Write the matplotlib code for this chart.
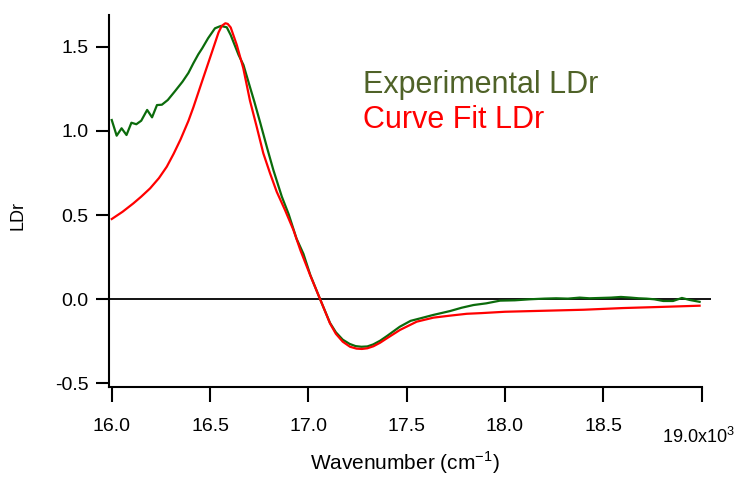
import matplotlib
matplotlib.use("Agg")
from matplotlib import pyplot as plt
import numpy as np

# experimental linear dichroism ratio (wavenumber in cm^-1)
exp_wn = [16000, 16025, 16050, 16075, 16100, 16125, 16150, 16180, 16205, 16230,
          16255, 16285, 16320, 16360, 16390, 16415, 16440, 16460, 16490, 16525,
          16555, 16585, 16605, 16625, 16645, 16670, 16700, 16725, 16755, 16790,
          16822, 16865, 16900, 16940, 16975, 17010, 17060, 17110, 17140, 17175,
          17210, 17240, 17270, 17300, 17330, 17365, 17400, 17465, 17520, 17570,
          17635, 17720, 17780, 17840, 17905, 17975, 18050, 18125, 18200, 18260,
          18320, 18380, 18430, 18485, 18540, 18590, 18640, 18680, 18720, 18760,
          18805, 18855, 18900, 18940, 18990]
exp_ldr = [1.065, 0.972, 1.016, 0.976, 1.049, 1.040, 1.061, 1.125, 1.081, 1.154,
           1.156, 1.184, 1.234, 1.293, 1.345, 1.402, 1.455, 1.491, 1.551, 1.610,
           1.624, 1.616, 1.570, 1.511, 1.452, 1.392, 1.273, 1.175, 1.050, 0.900,
           0.768, 0.610, 0.505, 0.360, 0.270, 0.144, 0.000, -0.140, -0.196, -0.240,
           -0.265, -0.278, -0.282, -0.280, -0.268, -0.246, -0.218, -0.163, -0.128, -0.113,
           -0.093, -0.070, -0.050, -0.034, -0.024, -0.008, -0.006, 0.000, 0.004, 0.006,
           0.004, 0.010, 0.006, 0.008, 0.010, 0.014, 0.010, 0.006, 0.004, 0.000,
           -0.010, -0.010, 0.008, -0.004, -0.015]

# fitted curve
fit_wn = [16000, 16055, 16110, 16150, 16195, 16240, 16280, 16315, 16350, 16390,
          16415, 16458, 16510, 16543, 16560, 16578, 16590, 16605, 16636, 16669,
          16703, 16737, 16771, 16805, 16839, 16881, 16924, 16960, 17009, 17060,
          17110, 17140, 17175, 17212, 17245, 17272, 17300, 17331, 17365, 17399,
          17466, 17551, 17636, 17721, 17806, 17880, 18000, 18200, 18400, 18600,
          18800, 18990]
fit_ldr = [0.477, 0.520, 0.570, 0.610, 0.659, 0.720, 0.788, 0.865, 0.950, 1.060,
           1.140, 1.290, 1.470, 1.585, 1.625, 1.640, 1.636, 1.615, 1.511, 1.373,
           1.180, 1.026, 0.867, 0.749, 0.639, 0.531, 0.412, 0.290, 0.144, 0.000,
           -0.143, -0.205, -0.252, -0.282, -0.293, -0.295, -0.291, -0.279, -0.258, -0.232,
           -0.182, -0.133, -0.109, -0.097, -0.086, -0.082, -0.074, -0.068, -0.062, -0.052,
           -0.045, -0.038]

xticks = [16000, 16500, 17000, 17500, 18000, 18500, 19000]
xticklabels = ["16.0", "16.5", "17.0", "17.5", "18.0", "18.5", ""]
yticks = [-0.5, 0.0, 0.5, 1.0, 1.5]
yticklabels = ["-0.5", "0.0", "0.5", "1.0", "1.5"]

plt.rcParams["font.family"] = ["Liberation Sans", "DejaVu Sans"]
plt.rcParams["mathtext.fontset"] = "custom"
plt.rcParams["mathtext.rm"] = "Liberation Sans"

W, H = 740, 478
fig = plt.figure(figsize=(W / 100, H / 100), dpi=100)
ax = fig.add_axes([109 / W, (H - 387) / H, 602 / W, 372 / H])

ax.axhline(0, color="black", lw=1.3, zorder=1)
ax.plot(exp_wn, exp_ldr, color="#0b6b0b", lw=1.6, zorder=2)
ax.plot(fit_wn, fit_ldr, color="#ff0000", lw=1.6, zorder=3)

ax.set_xlim(15986, 19048)
ax.set_ylim(-0.521, 1.689)

for s in ["top", "right"]:
    ax.spines[s].set_visible(False)
ax.spines["left"].set_linewidth(1.5)
ax.spines["bottom"].set_linewidth(1.5)
ax.spines["bottom"].set_bounds(15986, 19000)

ax.set_xticks(xticks)
ax.set_xticklabels(xticklabels)
ax.set_yticks(yticks)
ax.set_yticklabels(yticklabels)
ax.tick_params(axis="x", direction="out", length=11, width=1.5, pad=11, labelsize=14)
ax.tick_params(axis="y", direction="out", length=9.5, width=1.5, pad=5, labelsize=14)

# last tick label carries the exponent, drawn a bit lower
fig.text(662 / W, (H - 443) / H, r"19.0x10$^{\mathregular{3}}$", fontsize=13,
         ha="left", va="baseline")

fig.text(18 / W, (H - 216) / H, "LDr", fontsize=13, rotation=90, ha="center", va="center")
fig.text(405 / W, (H - 470) / H, r"Wavenumber (cm$^{\mathregular{-1}}$)", fontsize=15,
         ha="center", va="baseline")

fig.text(363 / W, (H - 93) / H, "Experimental LDr", fontsize=22, color="#4f6228",
         ha="left", va="baseline")
fig.text(363 / W, (H - 128) / H, "Curve Fit LDr", fontsize=22, color="#ff0000",
         ha="left", va="baseline")

fig.savefig("out.png", dpi=100)
